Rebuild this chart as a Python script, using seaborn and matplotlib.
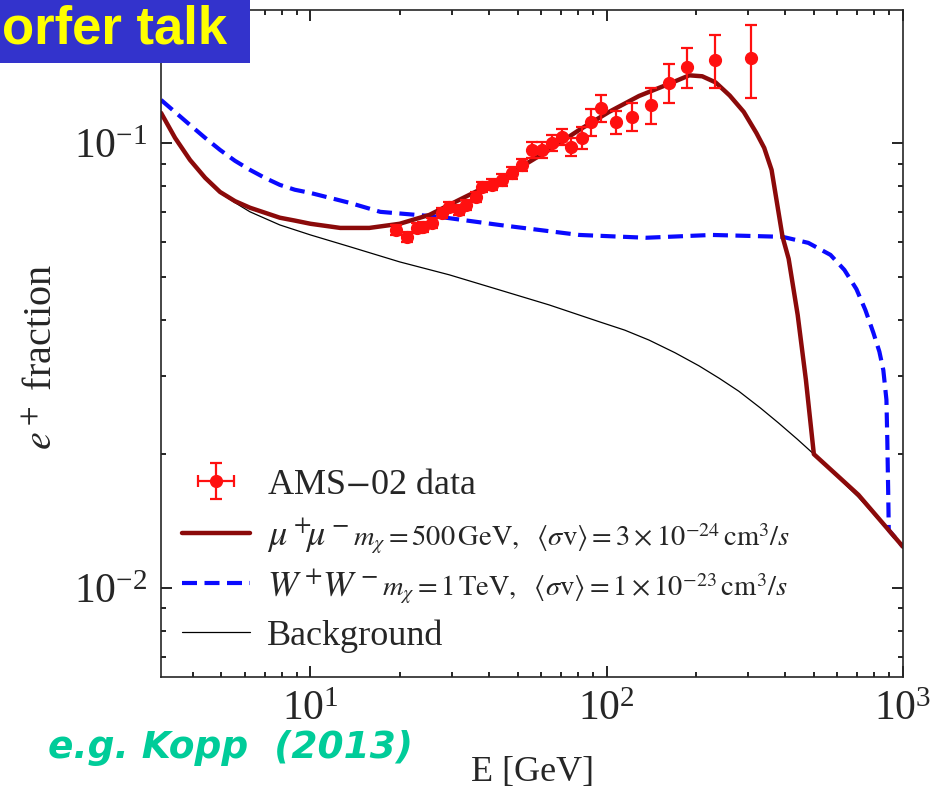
import numpy as np
import pandas as pd
import matplotlib
matplotlib.use("Agg")
import matplotlib.pyplot as plt
from matplotlib.patches import Rectangle
from matplotlib.ticker import LogLocator, NullFormatter
import seaborn as sns

# AMS-02 positron fraction
ams_energy = [19.5, 21.1, 22.8, 23.9, 25.8, 27.7, 29.4, 31.8, 33.6, 36.3,
              38.0, 41.1, 44.4, 48.0, 51.9, 56.0, 60.6, 65.4, 70.7, 75.8,
              82.6, 88.5, 95.7, 107.5, 121.7, 141.0, 162.1, 186.4, 231.6, 306.2]
ams_frac = [0.0639, 0.0616, 0.0645, 0.0648, 0.0662, 0.0697, 0.0719, 0.0708, 0.0727, 0.0757,
            0.0797, 0.0806, 0.0827, 0.0858, 0.0894, 0.0966, 0.0966, 0.1002, 0.1033, 0.0982,
            0.1028, 0.1116, 0.1200, 0.1116, 0.1146, 0.1219, 0.1366, 0.1484, 0.1539, 0.1555]
ams_err = [0.0017, 0.0017, 0.0018, 0.0018, 0.0018, 0.0019, 0.0019, 0.0019, 0.0020, 0.0020,
           0.0022, 0.0023, 0.0024, 0.0025, 0.0027, 0.0040, 0.0040, 0.0042, 0.0044, 0.0047,
           0.0060, 0.0080, 0.0086, 0.0068, 0.0083, 0.0112, 0.0137, 0.0153, 0.0208, 0.0290]

# mu+ mu- channel, m = 500 GeV
mumu_energy = [3.13, 3.49, 3.92, 4.41, 4.95, 5.56, 6.25, 7.01, 7.88, 8.85, 10.0, 12.6,
               15.8, 20.0, 25.2, 31.8, 40.2, 50.7, 63.9, 80.7, 101.8, 128.5, 162, 190,
               210, 233, 260, 290, 320, 340, 360, 392, 411, 441, 470, 500, 707, 1000]
mumu_frac = [0.117, 0.1028, 0.0917, 0.0836, 0.0777, 0.0741, 0.0716, 0.0698, 0.0680, 0.0670,
             0.0659, 0.0645, 0.0645, 0.0659, 0.0690, 0.0746, 0.0806, 0.0880, 0.0966, 0.1071,
             0.1176, 0.1277, 0.1359, 0.1421, 0.1414, 0.137, 0.128, 0.1176, 0.1054, 0.0976,
             0.0871, 0.0616, 0.0550, 0.0411, 0.0294, 0.0200, 0.0162, 0.01238]

# W+ W- channel, m = 1 TeV
ww_energy = [3.13, 3.49, 3.92, 4.41, 4.95, 5.56, 6.25, 7.01, 7.88, 8.85, 10.0, 13.6,
             17.2, 27.3, 43.4, 80.7, 135.6, 226.5, 392, 479, 569, 634, 696, 746,
             794, 832, 858, 879, 885, 892, 895, 1000]
ww_frac = [0.1251, 0.1175, 0.1099, 0.1028, 0.0966, 0.0913, 0.0871, 0.0836, 0.0806, 0.0786,
           0.0773, 0.0734, 0.0701, 0.0683, 0.0655, 0.0622, 0.0613, 0.0622, 0.0616, 0.0597,
           0.0561, 0.0519, 0.0470, 0.0422, 0.0375, 0.0340, 0.0309, 0.0265, 0.0215, 0.0158,
           0.0135, 0.01238]

# astrophysical background
bg_energy = [3.13, 3.49, 3.92, 4.41, 4.95, 5.56, 6.25, 7.88, 10.0, 13.6, 20.0, 29.4,
             43.4, 63.9, 94.2, 115, 138.8, 170, 204.6, 240, 279, 330, 380, 440,
             500, 707, 1000]
bg_frac = [0.117, 0.1028, 0.0917, 0.0836, 0.0773, 0.0735, 0.0701, 0.0655, 0.0622, 0.0585,
           0.0541, 0.0506, 0.0468, 0.0433, 0.0397, 0.0380, 0.0361, 0.0338, 0.0316, 0.0296,
           0.0277, 0.0254, 0.0235, 0.0216, 0.0200, 0.0160, 0.01238]

labels = ["AMS$-$02 data", r"$\mu^+\!\!\mu^-$", r"$W^+\!W^-$", "Background"]
small_labels = [r"$m_\chi = 500\,\mathrm{GeV},\ \ \langle\sigma\mathrm{v}\rangle = 3\times10^{-24}\,\mathrm{cm}^3/s$",
                r"$m_\chi = 1\,\mathrm{TeV},\ \ \langle\sigma\mathrm{v}\rangle = 1\times10^{-23}\,\mathrm{cm}^3/s$"]

sns.set_theme(style="ticks")
plt.rcParams["font.family"] = ["Liberation Serif", "DejaVu Serif"]
plt.rcParams["mathtext.fontset"] = "stix"
plt.rcParams["axes.linewidth"] = 1.2

fig = plt.figure(figsize=(9.44, 7.92), dpi=100)
ax = fig.add_axes([0.1706, 0.1452, 0.786, 0.8422])

bg_df = pd.DataFrame({"E": bg_energy, "f": bg_frac})
mumu_df = pd.DataFrame({"E": mumu_energy, "f": mumu_frac})
ww_df = pd.DataFrame({"E": ww_energy, "f": ww_frac})

sns.lineplot(data=bg_df, x="E", y="f", sort=False, color="black", linewidth=0.9, ax=ax)
sns.lineplot(data=ww_df, x="E", y="f", sort=False, color="#0a0aff", linewidth=3.0,
             linestyle=(0, (3.6, 1.8)), ax=ax)
sns.lineplot(data=mumu_df, x="E", y="f", sort=False, color="#8b0a0a", linewidth=3.2, ax=ax)
h_bg, h_ww, h_mumu = ax.lines[0], ax.lines[1], ax.lines[2]

h_ams = ax.errorbar(ams_energy, ams_frac, yerr=ams_err, xerr=np.zeros(len(ams_energy)),
                    fmt="o", color="#ff1010", ms=8.5, elinewidth=1.6, capsize=4.5,
                    capthick=1.6, zorder=5)

ax.set_xscale("log")
ax.set_yscale("log")
ax.set_xlim(3.13, 1000)
ax.set_ylim(0.00631, 0.1993)

ax.xaxis.set_minor_locator(LogLocator(subs=np.arange(2, 10)))
ax.yaxis.set_minor_locator(LogLocator(subs=np.arange(2, 10)))
ax.xaxis.set_minor_formatter(NullFormatter())
ax.yaxis.set_minor_formatter(NullFormatter())
ax.tick_params(which="both", direction="in", top=True, right=True, color="black",
               labelsize=30, pad=10)
ax.tick_params(which="major", length=8, width=1.2)
ax.tick_params(which="minor", length=3.5, width=1.2)

ax.set_xlabel("E [GeV]", fontsize=26, va="top")
ax.xaxis.set_label_coords(0.5, -0.118)
ax.set_ylabel(r"$e^+$ fraction", fontsize=29)
ax.yaxis.set_label_coords(-0.135, 0.48)

leg = ax.legend([h_ams, h_mumu, h_ww, h_bg], labels, loc="upper left",
                bbox_to_anchor=(0.028, 0.313), frameon=False, fontsize=26,
                handlelength=1.9, handletextpad=0.45, labelspacing=0.42,
                borderpad=0, borderaxespad=0)

# smaller parameter text that follows the channel names in the legend
fig.canvas.draw()
renderer = fig.canvas.get_renderer()
W, H = fig.bbox.width, fig.bbox.height
for txt, extra in zip(leg.get_texts()[1:3], small_labels):
    bb = txt.get_window_extent(renderer)
    x0, y0 = txt.get_transform().transform(txt.get_position())
    fig.text((bb.x1 + 4) / W, y0 / H, extra, fontsize=20.5, va="baseline", ha="left")

# slide decorations
fig.patches.append(Rectangle((0, 1 - 63 / 792), 250 / 944, 63 / 792,
                             transform=fig.transFigure, facecolor="#3333cc",
                             edgecolor="none", zorder=10))
fig.text(0.002, 1 - 43 / 792, "orfer talk", fontsize=38, fontweight="bold",
         color="#ffff00", family=["Liberation Sans", "DejaVu Sans"],
         va="baseline", ha="left", zorder=11)
fig.text(48 / 944, 1 - 758 / 792, "e.g. Kopp  (2013)", fontsize=27, fontweight="bold",
         style="italic", color="#00cc99", family=["DejaVu Sans"],
         va="baseline", ha="left")

fig.savefig("out.png", dpi=100)
